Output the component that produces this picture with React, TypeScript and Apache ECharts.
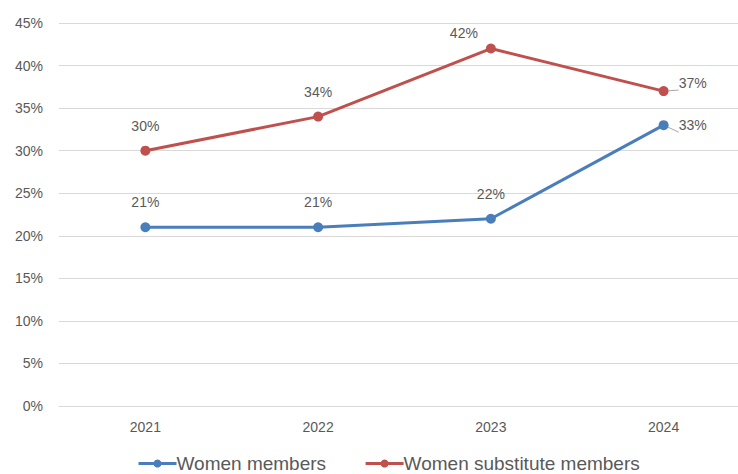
import React, { useEffect, useRef } from "react";
import * as echarts from "echarts";

const years = ["2021", "2022", "2023", "2024"];
const womenMembers = [21, 21, 22, 33];
const womenSubstitutes = [30, 34, 42, 37];

const TEXT = "#595959";
const FONT = "Liberation Sans, Arial, sans-serif";

export default function App() {
  const ref = useRef<HTMLDivElement>(null);

  useEffect(() => {
    if (!ref.current) return;
    const chart = echarts.init(ref.current, undefined, { renderer: "svg" });

    const baseLabel = {
      show: true,
      position: "top",
      distance: 13,
      color: TEXT,
      fontSize: 14,
      fontFamily: FONT,
      formatter: "{c}%",
    };

    const lastRight = (v: number, offset: number[]) => ({
      value: v,
      label: { position: "right", distance: 10, offset },
      labelLine: { show: true, lineStyle: { color: "#a6a6a6", width: 1 } },
    });

    chart.setOption({
      animation: false,
      textStyle: { fontFamily: FONT },
      // plot area runs past the visible right edge, as the gridlines do
      grid: { left: 59, top: 23, right: 0, bottom: 68 },
      xAxis: {
        type: "category",
        data: years,
        boundaryGap: true,
        axisLine: { show: true, lineStyle: { color: "#d9d9d9" } },
        axisTick: { show: false },
        axisLabel: { color: TEXT, fontSize: 14, fontFamily: FONT, margin: 14 },
      },
      yAxis: {
        type: "value",
        min: 0,
        max: 45,
        interval: 5,
        axisLine: { show: false },
        axisTick: { show: false },
        splitLine: { lineStyle: { color: "#d9d9d9" } },
        axisLabel: {
          color: TEXT,
          fontSize: 14,
          fontFamily: FONT,
          margin: 16,
          formatter: "{value}%",
        },
      },
      legend: {
        top: 449,
        left: 132,
        itemWidth: 38,
        itemHeight: 10,
        itemGap: 38,
        lineStyle: { width: 3 },
        textStyle: { color: TEXT, fontSize: 19, fontFamily: FONT, padding: [0, 0, 0, -5] },
        data: ["Women members", "Women substitute members"],
      },
      series: [
        {
          name: "Women members",
          type: "line",
          data: [
            womenMembers[0],
            womenMembers[1],
            womenMembers[2],
            lastRight(womenMembers[3], [0, 0]),
          ],
          color: "#4a7ebb",
          lineStyle: { width: 3 },
          symbol: "circle",
          symbolSize: 10,
          label: baseLabel,
        },
        {
          name: "Women substitute members",
          type: "line",
          data: [
            womenSubstitutes[0],
            womenSubstitutes[1],
            { value: womenSubstitutes[2], label: { offset: [-27, 9] } },
            lastRight(womenSubstitutes[3], [0, -8]),
          ],
          color: "#c0504d",
          lineStyle: { width: 3 },
          symbol: "circle",
          symbolSize: 10,
          label: baseLabel,
        },
      ],
    });

    return () => chart.dispose();
  }, []);

  return (
    <div
      style={{ position: "absolute", left: 0, top: 0, width: 738, height: 474, overflow: "hidden" }}
    >
      <div ref={ref} style={{ width: 750, height: 474 }} />
    </div>
  );
}
